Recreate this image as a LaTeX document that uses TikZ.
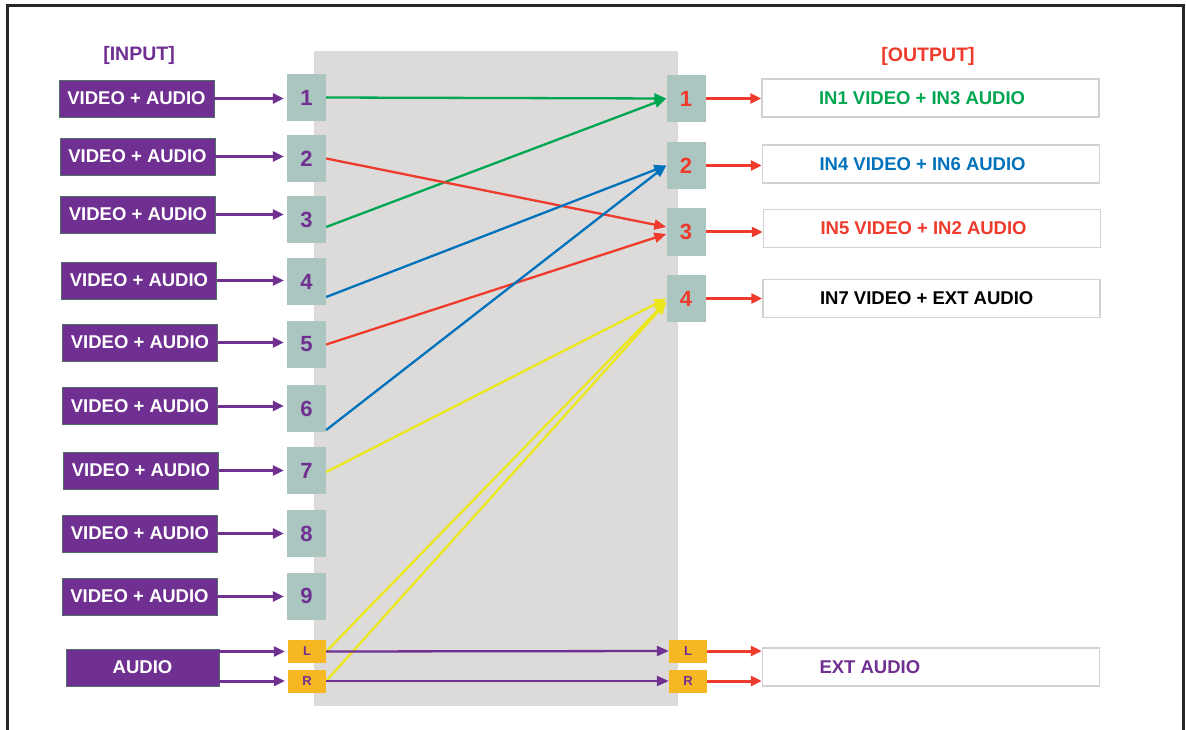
\documentclass[tikz,border=0pt]{standalone}
\usepackage{fontspec}
\setmainfont{Liberation Sans}
\usetikzlibrary{arrows.meta}
\definecolor{vpurple}{HTML}{6F3091}
\definecolor{inborder}{HTML}{4E6E66}
\definecolor{numfill}{HTML}{ABC6C0}
\definecolor{lrfill}{HTML}{F5B822}
\definecolor{panelgray}{HTML}{DCDBDA}
\definecolor{outborder}{HTML}{D2D2D2}
\definecolor{cgreen}{HTML}{00A651}
\definecolor{cblue}{HTML}{0072BC}
\definecolor{cred}{HTML}{EE3B2C}
\definecolor{cyellow}{HTML}{ECE61C}
\definecolor{framecol}{HTML}{262626}
\tikzset{
  inbox/.style={draw=inborder, line width=0.8pt, fill=vpurple, text=white,
    font=\fontsize{18.5}{20}\selectfont\bfseries, minimum width=155pt,
    minimum height=37pt, inner sep=0pt},
  numbox/.style={fill=numfill, minimum width=39pt, minimum height=47pt, inner sep=0pt,
    font=\fontsize{22}{24}\selectfont\bfseries},
  lrbox/.style={fill=lrfill, minimum width=38pt, minimum height=23pt, inner sep=0pt,
    font=\fontsize{13}{14}\selectfont\bfseries, text=vpurple},
  outbox/.style={draw=outborder, line width=1.5pt, fill=white, minimum height=38pt,
    inner xsep=57pt, inner ysep=0pt, text width=223pt, align=flush left,
    font=\fontsize{18.5}{20}\selectfont\bfseries},
  heading/.style={font=\fontsize{19.5}{21}\selectfont\bfseries, inner sep=0pt},
  inarrow/.style={draw=vpurple, line width=3pt, -{Triangle[length=11pt,width=10pt]}, shorten >=3pt},
  conn/.style={draw=#1, line width=2.3pt, -{Triangle[length=12pt,width=10pt]}},
  outarrow/.style={draw=cred, line width=3pt, -{Triangle[length=11pt,width=10pt]}},
}
\begin{document}
\begin{tikzpicture}[x=1pt,y=-1pt]
\useasboundingbox (0,0) rectangle (1186,730);
\fill[white] (0,0) rectangle (1186,730);
% frame
\draw[framecol, line width=3pt] (7,735) -- (7,6) -- (1183,6) -- (1183,735);
% central panel
\fill[panelgray] (314,51) rectangle (678,706);

% headings
\node[heading, text=vpurple] (hin) at (139,55) {[INPUT]};
\node[heading, text=cred] (hout) at (928,56) {[OUTPUT]};

% input boxes
\node[inbox] (i1) at (136.5,98.5) {VIDEO + AUDIO};
\node[inbox] (i2) at (137.5,156.5) {VIDEO + AUDIO};
\node[inbox] (i3) at (138,214.5) {VIDEO + AUDIO};
\node[inbox] (i4) at (139,280.5) {VIDEO + AUDIO};
\node[inbox] (i5) at (140,342.5) {VIDEO + AUDIO};
\node[inbox] (i6) at (140,406) {VIDEO + AUDIO};
\node[inbox] (i7) at (141,470.5) {VIDEO + AUDIO};
\node[inbox] (i8) at (140,533.5) {VIDEO + AUDIO};
\node[inbox] (i9) at (139.5,596.5) {VIDEO + AUDIO};
\node[inbox, minimum width=153pt] (au) at (142.5,667.5) {AUDIO};

% input number boxes
\node[numbox, text=vpurple] (n1) at (306.5,97.5) {1};
\node[numbox, text=vpurple] (n2) at (306.5,158.5) {2};
\node[numbox, text=vpurple] (n3) at (306.5,219.5) {3};
\node[numbox, text=vpurple] (n4) at (306.5,281.5) {4};
\node[numbox, text=vpurple] (n5) at (306.5,344.5) {5};
\node[numbox, text=vpurple] (n6) at (306.5,408.5) {6};
\node[numbox, text=vpurple] (n7) at (306.5,470.5) {7};
\node[numbox, text=vpurple] (n8) at (306.5,533.5) {8};
\node[numbox, text=vpurple] (n9) at (306.5,596) {9};
\node[lrbox] (iL) at (307,651.5) {L};
\node[lrbox] (iR) at (307,681) {R};

% output number boxes
\node[numbox, text=cred] (o1) at (686,98.5) {1};
\node[numbox, text=cred] (o2) at (686,165.5) {2};
\node[numbox, text=cred] (o3) at (686,232) {3};
\node[numbox, text=cred] (o4) at (686,298.5) {4};
\node[lrbox] (oL) at (688,651) {L};
\node[lrbox] (oR) at (688,681) {R};

% output text boxes
\node[outbox, text=cgreen] (t1) at (930.5,98) {IN1 VIDEO + IN3 AUDIO};
\node[outbox, text=cblue] (t2) at (931,164) {IN4 VIDEO + IN6 AUDIO};
\node[outbox, text=cred] (t3) at (932,228.5) {IN5 VIDEO + IN2 AUDIO};
\node[outbox, text=black] (t4) at (931.5,298.5) {IN7 VIDEO + EXT AUDIO};
\node[outbox, text=vpurple] (t5) at (931,667) {EXT AUDIO};

% input arrows
\foreach \k in {1,...,9} {\draw[inarrow] (i\k.east) -- (i\k.east -| n\k.west);}
\draw[inarrow] (au.east |- iL) -- (iL.west);
\draw[inarrow] (au.east |- iR) -- (iR.west);

% routing connectors
\draw[conn=cgreen] (n1.east) -- (o1.west);
\draw[conn=cgreen] ([yshift=-7.5pt]n3.east) -- (o1.west);
\draw[conn=cred] (n2.east) -- ([yshift=5pt]o3.west);
\draw[conn=cred] (n5.east) -- ([yshift=-2pt]o3.west);
\draw[conn=cblue] ([yshift=-15.5pt]n4.east) -- (o2.west);
\draw[conn=cblue] ([yshift=-21.5pt]n6.east) -- (o2.west);
\draw[conn=cyellow] ([yshift=-1.5pt]n7.east) -- (o4.west);
\draw[conn=cyellow] (iL.east) -- ([yshift=-3pt]o4.west);
\draw[conn=cyellow] (iR.east) -- ([yshift=-4pt]o4.west);
\draw[conn=vpurple] (iL.east) -- (oL.west);
\draw[conn=vpurple] (iR.east) -- (oR.west);

% output arrows
\draw[outarrow] (o1.east) -- (t1.west |- o1);
\draw[outarrow] (o2.east) -- (t2.west |- o2);
\draw[outarrow] (o3.east) -- (t3.west |- o3);
\draw[outarrow] (o4.east) -- (t4.west |- o4);
\draw[outarrow] (oL.east) -- (t5.west |- oL);
\draw[outarrow] (oR.east) -- (t5.west |- oR);
\end{tikzpicture}
\end{document}
